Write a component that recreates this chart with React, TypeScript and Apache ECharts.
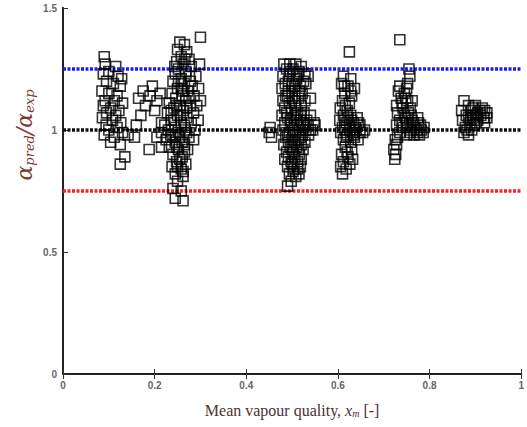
import React, { useEffect, useRef } from "react";
import * as echarts from "echarts";

const xTicks = [0, 0.2, 0.4, 0.6, 0.8, 1];
const yTicks = [0, 0.5, 1, 1.5];

const upperLimit = 1.25;
const perfectFit = 1.0;
const lowerLimit = 0.75;

const clusterA: number[][] = [
  [0.090, 1.30], [0.092, 1.27], [0.100, 1.24], [0.088, 1.23], [0.120, 1.22], [0.128, 1.21], [0.095, 1.20],
  [0.110, 1.19], [0.125, 1.18], [0.085, 1.16], [0.100, 1.15], [0.118, 1.14], [0.092, 1.12], [0.112, 1.12],
  [0.130, 1.11], [0.088, 1.10], [0.104, 1.09], [0.122, 1.08], [0.095, 1.07], [0.115, 1.06], [0.086, 1.05],
  [0.108, 1.04], [0.126, 1.03], [0.094, 1.02], [0.118, 1.01], [0.100, 1.00], [0.130, 0.99], [0.090, 0.98],
  [0.112, 0.97], [0.142, 0.98], [0.156, 0.97], [0.104, 0.95], [0.125, 0.94], [0.135, 0.89], [0.125, 0.86],
  [0.115, 1.26],
];

const clusterAB: number[][] = [
  [0.165, 1.13], [0.175, 1.16], [0.180, 1.10], [0.190, 1.14], [0.195, 1.18], [0.205, 1.12], [0.170, 1.06],
  [0.188, 0.92], [0.160, 1.02], [0.200, 1.08], [0.212, 1.15], [0.215, 1.03], [0.205, 0.97], [0.215, 0.93],
];

const clusterB: number[][] = [
  [0.255, 1.36], [0.265, 1.35], [0.250, 1.33], [0.270, 1.32], [0.300, 1.38], [0.258, 1.30], [0.275, 1.29],
  [0.248, 1.28], [0.262, 1.27], [0.298, 1.27], [0.280, 1.26], [0.252, 1.25], [0.268, 1.24], [0.245, 1.23],
  [0.276, 1.22], [0.258, 1.21], [0.290, 1.22], [0.240, 1.20], [0.265, 1.19], [0.282, 1.18], [0.250, 1.17],
  [0.272, 1.16], [0.238, 1.15], [0.260, 1.14], [0.286, 1.14], [0.246, 1.13], [0.268, 1.12], [0.232, 1.11],
  [0.255, 1.10], [0.278, 1.10], [0.242, 1.09], [0.262, 1.08], [0.285, 1.07], [0.228, 1.07], [0.250, 1.06],
  [0.270, 1.05], [0.236, 1.04], [0.258, 1.03], [0.280, 1.03], [0.222, 1.02], [0.245, 1.01], [0.266, 1.00],
  [0.288, 1.00], [0.215, 0.99], [0.235, 0.98], [0.255, 0.97], [0.275, 0.97], [0.225, 0.96], [0.245, 0.95],
  [0.265, 0.94], [0.232, 0.93], [0.252, 0.92], [0.272, 0.92], [0.240, 0.90], [0.260, 0.89], [0.248, 0.87],
  [0.268, 0.86], [0.238, 0.85], [0.258, 0.84], [0.245, 0.82], [0.262, 0.81], [0.250, 0.79], [0.240, 0.76],
  [0.258, 0.75], [0.245, 0.72], [0.262, 0.71], [0.295, 1.04], [0.292, 1.10], [0.296, 1.17], [0.300, 1.12],
  [0.285, 0.96],
  [0.252, 1.20], [0.262, 1.16], [0.248, 1.10], [0.270, 1.09], [0.256, 1.06], [0.242, 1.04], [0.265, 1.02],
  [0.252, 0.99], [0.270, 0.99], [0.240, 0.97], [0.260, 0.95], [0.248, 0.93], [0.265, 0.91], [0.255, 0.88],
  [0.245, 0.98], [0.275, 1.13], [0.258, 1.17], [0.244, 1.26], [0.266, 1.29], [0.278, 1.20], [0.236, 1.08],
  [0.230, 1.00], [0.250, 0.85], [0.262, 0.83],
];

const clusterC: number[][] = [
  [0.482, 1.27], [0.495, 1.27], [0.508, 1.27], [0.520, 1.26], [0.488, 1.25], [0.502, 1.25], [0.515, 1.24],
  [0.528, 1.23], [0.480, 1.22], [0.494, 1.22], [0.510, 1.21], [0.485, 1.19], [0.500, 1.19], [0.518, 1.18],
  [0.530, 1.19], [0.478, 1.17], [0.492, 1.16], [0.506, 1.16], [0.522, 1.15], [0.486, 1.14], [0.500, 1.13],
  [0.514, 1.13], [0.528, 1.12], [0.480, 1.12], [0.494, 1.11], [0.508, 1.10], [0.520, 1.10], [0.484, 1.09],
  [0.498, 1.08], [0.512, 1.07], [0.526, 1.07], [0.540, 1.06], [0.478, 1.06], [0.490, 1.05], [0.504, 1.05],
  [0.518, 1.04], [0.532, 1.04], [0.548, 1.03], [0.484, 1.03], [0.498, 1.02], [0.512, 1.02], [0.526, 1.01],
  [0.540, 1.00], [0.480, 1.00], [0.494, 0.99], [0.508, 0.99], [0.522, 0.98], [0.536, 0.98], [0.486, 0.97],
  [0.500, 0.96], [0.514, 0.96], [0.528, 0.95], [0.482, 0.94], [0.496, 0.93], [0.510, 0.93], [0.524, 0.92],
  [0.488, 0.91], [0.502, 0.90], [0.516, 0.90], [0.484, 0.88], [0.498, 0.87], [0.512, 0.87], [0.490, 0.85],
  [0.504, 0.84], [0.518, 0.85], [0.494, 0.82], [0.508, 0.81], [0.498, 0.79], [0.490, 0.77], [0.452, 1.01],
  [0.455, 0.97], [0.450, 0.99], [0.535, 1.22], [0.540, 1.13],
  [0.492, 1.20], [0.505, 1.18], [0.516, 1.16], [0.490, 1.14], [0.506, 1.12], [0.488, 1.07], [0.508, 1.06],
  [0.520, 1.06], [0.496, 1.04], [0.510, 1.04], [0.524, 1.03], [0.502, 1.00], [0.516, 1.00], [0.530, 1.00],
  [0.490, 0.98], [0.504, 0.98], [0.518, 0.97], [0.492, 0.95], [0.506, 0.95], [0.520, 0.94], [0.500, 0.92],
  [0.514, 0.92], [0.492, 0.89], [0.506, 0.89], [0.520, 0.88], [0.500, 0.86], [0.512, 0.84], [0.502, 0.83],
  [0.515, 0.82], [0.545, 1.00], [0.550, 1.02], [0.535, 1.02], [0.496, 1.24], [0.510, 1.23], [0.525, 1.20],
];

const clusterD: number[][] = [
  [0.625, 1.32], [0.612, 1.22], [0.628, 1.21], [0.608, 1.19], [0.622, 1.18], [0.636, 1.17], [0.615, 1.15],
  [0.630, 1.14], [0.610, 1.12], [0.625, 1.11], [0.605, 1.09], [0.620, 1.08], [0.612, 1.06], [0.628, 1.06],
  [0.642, 1.05], [0.604, 1.04], [0.618, 1.03], [0.634, 1.03], [0.648, 1.02], [0.610, 1.01], [0.626, 1.00],
  [0.640, 1.00], [0.654, 0.99], [0.606, 0.99], [0.620, 0.98], [0.636, 0.97], [0.612, 0.96], [0.628, 0.95],
  [0.644, 0.96], [0.616, 0.93], [0.630, 0.92], [0.608, 0.90], [0.622, 0.89], [0.612, 0.87], [0.626, 0.86],
  [0.606, 0.85], [0.618, 0.84], [0.610, 0.82], [0.632, 0.88],
  [0.615, 1.04], [0.630, 1.04], [0.645, 1.03], [0.615, 1.00], [0.632, 0.99], [0.648, 0.99], [0.618, 0.97],
  [0.635, 0.98], [0.622, 1.05], [0.638, 1.01], [0.658, 1.00], [0.616, 1.10], [0.628, 1.16], [0.614, 1.18],
  [0.620, 0.91],
];

const clusterE: number[][] = [
  [0.735, 1.37], [0.755, 1.25], [0.757, 1.22], [0.752, 1.19], [0.732, 1.16], [0.745, 1.15], [0.738, 1.13],
  [0.752, 1.12], [0.728, 1.10], [0.742, 1.09], [0.758, 1.09], [0.730, 1.07], [0.745, 1.06], [0.760, 1.06],
  [0.774, 1.05], [0.735, 1.04], [0.750, 1.03], [0.765, 1.03], [0.780, 1.02], [0.728, 1.02], [0.742, 1.01],
  [0.758, 1.00], [0.772, 1.00], [0.786, 0.99], [0.735, 0.99], [0.750, 0.98], [0.766, 0.98], [0.725, 0.96],
  [0.728, 0.94], [0.722, 0.92], [0.726, 0.90], [0.724, 0.88], [0.730, 0.97], [0.762, 1.12],
  [0.748, 1.05], [0.762, 1.04], [0.776, 1.03], [0.752, 1.01], [0.768, 1.01], [0.782, 1.00], [0.758, 0.99],
  [0.774, 0.99], [0.740, 1.03], [0.754, 1.07], [0.740, 1.11], [0.748, 1.13], [0.735, 1.18], [0.750, 1.17],
  [0.788, 1.01], [0.778, 0.98],
];

const clusterF: number[][] = [
  [0.875, 1.12], [0.885, 1.10], [0.900, 1.10], [0.915, 1.09], [0.870, 1.08], [0.890, 1.08], [0.905, 1.07],
  [0.920, 1.08], [0.880, 1.06], [0.895, 1.05], [0.912, 1.06], [0.872, 1.04], [0.888, 1.03], [0.902, 1.03],
  [0.878, 1.01], [0.892, 1.00], [0.875, 0.99], [0.885, 0.98],
  [0.895, 1.09], [0.910, 1.08], [0.925, 1.07], [0.900, 1.06], [0.918, 1.05], [0.890, 1.04], [0.905, 1.04],
  [0.920, 1.03], [0.885, 1.05], [0.898, 1.02], [0.882, 1.00], [0.925, 1.05],
];

export default function App() {
  const ref = useRef<HTMLDivElement>(null);
  useEffect(() => {
    if (!ref.current) return;
    const chart = echarts.init(ref.current, null, { renderer: "svg" });
    const points = [
      ...clusterA, ...clusterAB, ...clusterB, ...clusterC, ...clusterD, ...clusterE, ...clusterF,
    ];
    const refLine = (y: number, color: string) => ({
      type: "line",
      data: [[xTicks[0], y], [xTicks[xTicks.length - 1], y]],
      showSymbol: false,
      symbol: "none",
      silent: true,
      lineStyle: { color, width: 3.5, type: [3, 1.5] },
      z: 1,
    });
    const labelStyle = {
      color: "#666",
      fontSize: 10,
      fontWeight: "bold" as const,
      fontFamily: "Liberation Sans, Arial, sans-serif",
    };
    const axisLineStyle = { color: "#222", width: 2 };
    chart.setOption({
      animation: false,
      grid: { left: 63, right: 4, top: 8, bottom: 53, containLabel: false },
      xAxis: [
        {
          type: "value",
          min: xTicks[0],
          max: xTicks[xTicks.length - 1],
          interval: 0.2,
          position: "bottom",
          axisLine: { lineStyle: axisLineStyle },
          axisTick: { inside: true, length: 5, lineStyle: { color: "#333" } },
          splitLine: { show: false },
          axisLabel: { ...labelStyle, margin: 6 },
          name: "Mean vapour quality, {i|x}{s|m} [-]",
          nameLocation: "middle",
          nameGap: 28,
          nameTextStyle: {
            fontFamily: "Liberation Serif, serif",
            fontSize: 16,
            color: "#4a3232",
            rich: {
              i: { fontFamily: "Liberation Serif, serif", fontSize: 16, fontStyle: "italic", color: "#4a3232" },
              s: { fontFamily: "Liberation Serif, serif", fontSize: 10, fontStyle: "italic", color: "#4a3232", padding: [6, 0, 0, 0] },
            },
          },
        },
        {
          type: "value",
          min: xTicks[0],
          max: xTicks[xTicks.length - 1],
          interval: 0.2,
          position: "top",
          axisLine: { lineStyle: axisLineStyle },
          axisTick: { inside: true, length: 5, lineStyle: { color: "#333" } },
          splitLine: { show: false },
          axisLabel: { show: false },
        },
      ],
      yAxis: [
        {
          type: "value",
          min: yTicks[0],
          max: yTicks[yTicks.length - 1],
          interval: 0.5,
          position: "left",
          axisLine: { show: true, lineStyle: axisLineStyle },
          axisTick: { show: true, inside: true, length: 5, lineStyle: { color: "#333" } },
          splitLine: { show: false },
          axisLabel: { ...labelStyle, margin: 6 },
        },
        {
          type: "value",
          min: yTicks[0],
          max: yTicks[yTicks.length - 1],
          interval: 0.5,
          position: "right",
          axisLine: { show: true, lineStyle: axisLineStyle },
          axisTick: { show: false },
          splitLine: { show: false },
          axisLabel: { show: false },
        },
      ],
      graphic: [
        {
          type: "text",
          x: 24,
          y: 135,
          rotation: Math.PI / 2,
          style: {
            text: "{a|α}{s|pred}{a|/α}{s|exp}",
            align: "center",
            verticalAlign: "middle",
            rich: {
              a: { fontFamily: "DejaVu Serif, serif", fontStyle: "italic", fontSize: 22, fill: "#7a3a30" },
              s: { fontFamily: "DejaVu Serif, serif", fontStyle: "italic", fontSize: 13, fill: "#7a3a30", padding: [10, 0, 0, 0] },
            },
          },
        },
      ],
      series: [
        refLine(upperLimit, "#1a1aff"),
        refLine(perfectFit, "#111"),
        refLine(lowerLimit, "#ff2020"),
        {
          type: "scatter",
          data: points,
          symbol: "rect",
          symbolSize: 10,
          itemStyle: { color: "rgba(255,255,255,0)", borderColor: "#000", borderWidth: 1.6 },
          z: 3,
        },
      ],
    });
    return () => chart.dispose();
  }, []);
  return <div ref={ref} style={{ width: 527, height: 427, position: "absolute", left: 0, top: 0 }} />;
}
